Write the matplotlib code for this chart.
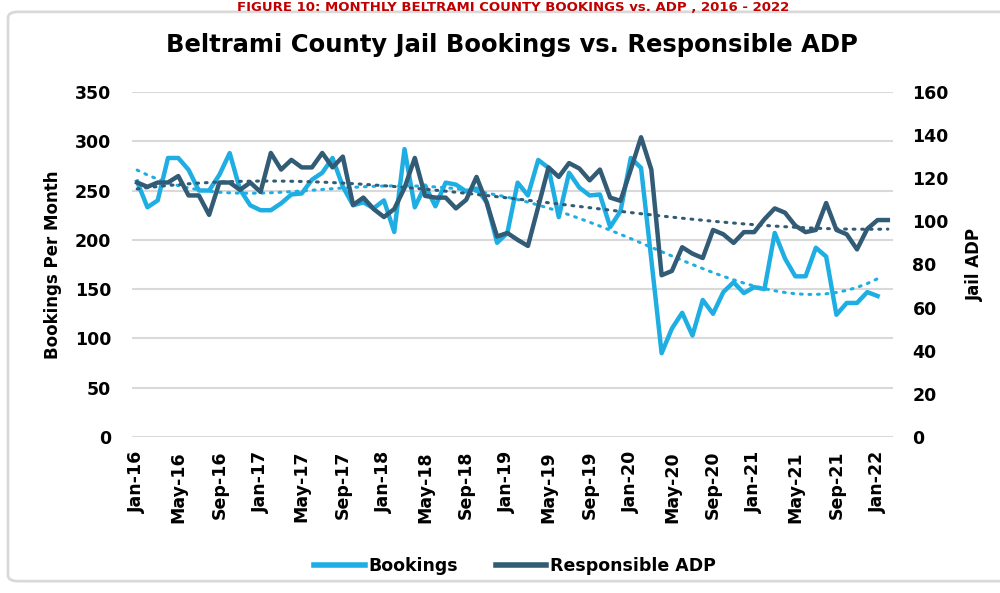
import numpy as np
import matplotlib.pyplot as plt
from matplotlib.patches import FancyBboxPatch
from matplotlib.lines import Line2D

# ---------- DATA ----------
month_names = ["Jan", "Feb", "Mar", "Apr", "May", "Jun",
               "Jul", "Aug", "Sep", "Oct", "Nov", "Dec"]
# Jan-16 .. Feb-22 (74 months)
month_labels = [f"{month_names[m % 12]}-{16 + m // 12}" for m in range(74)]

bookings = [
    259, 233, 240, 283, 283, 271, 250, 250, 266, 288, 251, 235,   # 2016
    230, 230, 237, 246, 247, 261, 268, 283, 254, 235, 238, 232,   # 2017
    240, 208, 292, 233, 255, 234, 258, 256, 249, 252, 238, 197,   # 2018
    207, 258, 245, 281, 273, 223, 268, 253, 245, 246, 213, 229,   # 2019
    283, 273, 180, 85, 110, 126, 103, 139, 125, 147, 157, 146,    # 2020
    152, 150, 207, 181, 163, 163, 192, 183, 124, 136, 136, 147,   # 2021
    143, np.nan,                                                   # 2022
]
adp = [
    118, 116, 118, 118, 121, 112, 112, 103, 118, 118, 114.6, 118,
    113.6, 131.7, 124, 128.5, 125, 125, 131.7, 125, 130, 107.6, 111, 105.7,
    102, 105.7, 115.5, 129.4, 111.8, 111, 111, 106, 110, 120.6, 108.5, 93,
    94.6, 91.4, 88.6, 106.7, 125, 120.6, 127, 124.5, 119, 124, 111, 109.5,
    124, 139, 124, 75, 77, 88, 85, 83, 96, 94, 90, 95,
    95, 101, 106, 104, 98, 95, 96, 108.5, 96, 94, 87, 96.5,
    100.6, 100.6,
]

tick_labels = ["Jan-16", "May-16", "Sep-16", "Jan-17", "May-17", "Sep-17",
               "Jan-18", "May-18", "Sep-18", "Jan-19", "May-19", "Sep-19",
               "Jan-20", "May-20", "Sep-20", "Jan-21", "May-21", "Sep-21",
               "Jan-22"]

BOOK_COLOR = "#1FAEE3"
ADP_COLOR = "#325B75"

x = np.arange(len(month_labels))
bookings = np.array(bookings, dtype=float)
adp = np.array(adp, dtype=float)

# ---------- TRENDLINES ----------
ok = ~np.isnan(bookings)
xb = x[ok]
book_trend = np.polyval(np.polyfit(xb, bookings[ok], 4), xb)
adp_trend = np.polyval(np.polyfit(x, adp, 3), x)

# ---------- FIGURE ----------
fig = plt.figure(figsize=(10, 5.93), dpi=100)
fig.patch.set_facecolor("white")

# chart border
border = FancyBboxPatch((0.008, 0.02), 1.2, 0.96, boxstyle="round,pad=0,rounding_size=0.01",
                        transform=fig.transFigure, facecolor="none",
                        edgecolor="#D9D9D9", lw=2, zorder=0)
fig.patches.append(border)

# report caption above the chart box
fig.text(0.513, 0.999, "FIGURE 10: MONTHLY BELTRAMI COUNTY BOOKINGS vs. ADP , 2016 - 2022",
         color="#C00000", fontsize=9.5, fontweight="bold", ha="center", va="top")

ax = fig.add_axes([0.132, 0.263, 0.761, 0.582])
ax2 = ax.twinx()

ax.plot(x, bookings, color=BOOK_COLOR, lw=3.2, solid_joinstyle="round", zorder=3)
ax.plot(xb, book_trend, color=BOOK_COLOR, lw=2.2, linestyle=(0, (0.6, 2.2)),
        dash_capstyle="round", zorder=2)
ax2.plot(x, adp, color=ADP_COLOR, lw=3.2, solid_joinstyle="round", zorder=3)
ax2.plot(x, adp_trend, color=ADP_COLOR, lw=2.2, linestyle=(0, (0.6, 2.2)),
         dash_capstyle="round", zorder=2)

ax.set_xlim(-0.5, len(month_labels) - 0.5)
ax.set_ylim(0, 350)
ax2.set_ylim(0, 160)
ax.set_yticks(np.arange(0, 351, 50))
ax2.set_yticks(np.arange(0, 161, 20))
ax.set_xticks(x[::4])
ax.set_xticklabels(tick_labels, rotation=90, fontsize=12.5, fontweight="bold")

for a in (ax, ax2):
    for s in a.spines.values():
        s.set_visible(False)
    a.tick_params(length=0, labelsize=12.5)
ax.tick_params(axis="y", pad=15)
ax2.tick_params(axis="y", pad=14)
ax.tick_params(axis="x", pad=10)
plt.setp(ax.get_yticklabels(), fontweight="bold")
plt.setp(ax2.get_yticklabels(), fontweight="bold")

ax.grid(axis="y", color="#D9D9D9", lw=1.5)
ax.set_axisbelow(True)

ax.set_ylabel("Bookings Per Month", fontsize=12, fontweight="bold", labelpad=9)
ax2.set_ylabel("Jail ADP", fontsize=12, fontweight="bold", rotation=90, labelpad=12)

fig.suptitle("Beltrami County Jail Bookings vs. Responsible ADP", x=0.512, y=0.945,
             fontsize=17.5, fontweight="bold")

handles = [Line2D([], [], color=BOOK_COLOR, lw=4),
           Line2D([], [], color=ADP_COLOR, lw=4)]
fig.legend(handles, ["Bookings", "Responsible ADP"], loc="center", ncol=2,
           bbox_to_anchor=(0.515, 0.046), frameon=False, handlelength=2.9,
           handletextpad=0.2, columnspacing=2.2,
           prop={"weight": "bold", "size": 12.5})

fig.savefig("out.png", dpi=100)
